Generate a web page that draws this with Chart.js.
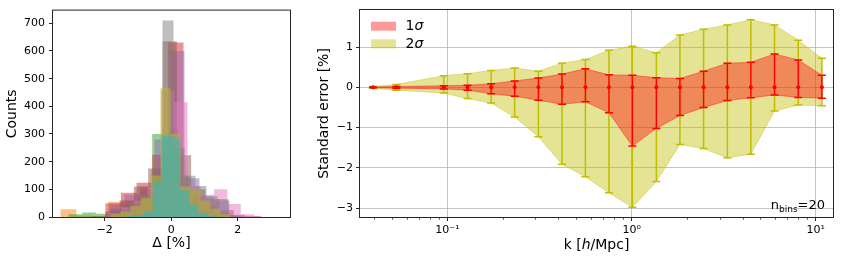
<!DOCTYPE html>
<html>
<head>
<meta charset="utf-8">
<script src="https://cdn.jsdelivr.net/npm/chart.js@4.4.0/dist/chart.umd.min.js"></script>
<style>
  html, body { margin: 0; padding: 0; background: #fff; }
  #wrap { position: relative; width: 843px; height: 261px; }
  #histBox { position: absolute; left: 0; top: 0; width: 300px; height: 261px; }
  #errBox { position: absolute; left: 300px; top: 0; width: 543px; height: 261px; }
</style>
</head>
<body>
<div id="wrap">
  <div id="histBox"><canvas id="hist"></canvas></div>
  <div id="errBox"><canvas id="err"></canvas></div>
</div>
<script>
const FONT = "'DejaVu Sans', sans-serif";
Chart.defaults.font.family = FONT;
Chart.defaults.color = '#000';
Chart.defaults.animation = false;

// ---- left panel: histograms of Delta, one per realisation (bin edges + counts)
const blueEdges   = [-1.6, -1.3, -1.0, -0.7, -0.4, -0.1, 0.2, 0.5, 0.8, 1.1, 1.4];
const blueCounts  = [5, 15, 40, 90, 165, 320, 150, 60, 20, 5];
const orangeEdges = [-3.33, -2.85, -2.37, -1.89, -1.41, -0.93, -0.45, 0.03, 0.51, 0.99, 1.47];
const orangeCounts= [28, 5, 3, 55, 60, 100, 170, 150, 20, 5];
const greenEdges  = [-3.09, -2.67, -2.25, -1.83, -1.41, -0.99, -0.57, -0.15, 0.27, 0.69, 1.11];
const greenCounts = [10, 16, 12, 30, 45, 70, 300, 280, 60, 10];
const redEdges    = [-1.98, -1.51, -1.04, -0.57, -0.10, 0.37, 0.84, 1.31, 1.78, 2.25, 2.72];
const redCounts   = [50, 88, 124, 225, 631, 80, 40, 15, 5, 3];
const purpleEdges = [-1.85, -1.40, -0.95, -0.50, -0.05, 0.40, 0.85, 1.30, 1.75, 2.20, 2.65];
const purpleCounts= [45, 80, 110, 280, 600, 140, 75, 60, 8, 2];
const brownEdges  = [-2.41, -1.98, -1.55, -1.12, -0.69, -0.26, 0.17, 0.60, 1.03, 1.46, 1.89];
const brownCounts = [3, 20, 60, 110, 175, 635, 223, 100, 65, 25];
const pinkEdges   = [-1.91, -1.51, -1.11, -0.71, -0.31, 0.09, 0.49, 0.89, 1.29, 1.69, 2.09, 2.49];
const pinkCounts  = [15, 35, 60, 110, 457, 415, 110, 80, 100, 47, 10];
const grayEdges   = [-1.91, -1.58, -1.25, -0.92, -0.59, -0.26, 0.07, 0.40, 0.73, 1.06, 1.39, 1.72, 2.05];
const grayCounts  = [10, 25, 50, 80, 170, 710, 250, 149, 112, 75, 65, 5];
const oliveEdges  = [-1.82, -1.52, -1.22, -0.92, -0.62, -0.32, -0.02, 0.28, 0.58, 0.88, 1.18, 1.48, 1.78];
const oliveCounts = [10, 20, 40, 70, 150, 467, 300, 110, 100, 60, 30, 10];
const cyanEdges   = [-1.38, -1.105, -0.83, -0.555, -0.28, -0.005, 0.27, 0.545, 0.82, 1.095, 1.37];
const cyanCounts  = [3, 8, 20, 130, 295, 290, 97, 45, 15, 5];

const countTicks = [0, 100, 200, 300, 400, 500, 600, 700];
const deltaTicks = [-2, 0, 2];

// ---- right panel: standard error per k bin
const kBins  = [0.0394, 0.0528, 0.0955, 0.1286, 0.1726, 0.2317, 0.3118, 0.4188, 0.561, 0.753,
                1.009, 1.362, 1.829, 2.459, 3.31, 4.44, 5.97, 8.03, 10.79];
const centre = [0, 0, 0, 0, 0, 0, 0, 0, 0, 0, 0, 0, 0, 0, 0, 0, 0, 0, 0];
const sig1Up = [0.01, 0.02, 0.04, 0.05, 0.09, 0.16, 0.23, 0.33, 0.46, 0.31, 0.30, 0.24, 0.22, 0.40, 0.60, 0.62, 0.83, 0.68, 0.30];
const sig1Lo = [-0.01, -0.02, -0.04, -0.07, -0.16, -0.22, -0.32, -0.42, -0.36, -0.63, -1.46, -1.02, -0.70, -0.50, -0.33, -0.26, -0.19, -0.25, -0.27];
const sig2Up = [0.02, 0.07, 0.29, 0.34, 0.42, 0.48, 0.40, 0.60, 0.69, 0.92, 1.02, 0.86, 1.30, 1.44, 1.55, 1.68, 1.55, 1.17, 0.72];
const sig2Lo = [-0.02, -0.07, -0.14, -0.28, -0.39, -0.74, -1.23, -1.91, -2.22, -2.62, -2.98, -2.34, -1.42, -1.52, -1.75, -1.66, -0.59, -0.44, -0.46];
const errTicks = [-3, -2, -1, 0, 1];
const kTicks   = [0.1, 1, 10];
const kLabels  = ['10⁻¹', '10⁰', '10¹'];

const RED1 = 'rgba(255,0,0,0.4)';
const YEL2 = 'rgba(191,191,0,0.42)';
const EDGE = '#262626';

function minus(v) { return v < 0 ? '\u2212' + Math.abs(v) : String(v); }

// axes box like matplotlib spines
const frame = {
  id: 'frame',
  afterDraw(chart) {
    const { ctx, chartArea: a } = chart;
    ctx.save();
    ctx.strokeStyle = EDGE;
    ctx.lineWidth = 1;
    ctx.strokeRect(a.left - 0.5, a.top - 0.5, a.width + 1, a.height + 1);
    ctx.restore();
  }
};

const _tickBase = {
  drawOnChartArea: false, tickLength: 4, tickColor: EDGE, tickWidth: 1
};

// count i covers [edges[i], edges[i+1]]; 'before' keeps the previous y until the next edge
function stepSeries(edges, counts, rgb) {
  return {
    data: edges.map((e, i) => ({ x: e, y: i < counts.length ? counts[i] : 0 })),
    stepped: 'before',
    fill: 'origin',
    backgroundColor: 'rgba(' + rgb + ',0.5)',
    borderWidth: 0,
    pointRadius: 0
  };
}

new Chart(document.getElementById('hist'), {
  type: 'line',
  data: {
    datasets: [
      stepSeries(blueEdges, blueCounts, '31,119,180'),
      stepSeries(orangeEdges, orangeCounts, '255,127,14'),
      stepSeries(greenEdges, greenCounts, '44,160,44'),
      stepSeries(redEdges, redCounts, '214,39,40'),
      stepSeries(purpleEdges, purpleCounts, '148,103,189'),
      stepSeries(brownEdges, brownCounts, '140,86,75'),
      stepSeries(pinkEdges, pinkCounts, '227,119,194'),
      stepSeries(grayEdges, grayCounts, '127,127,127'),
      stepSeries(oliveEdges, oliveCounts, '188,189,34'),
      stepSeries(cyanEdges, cyanCounts, '23,190,207')
    ].reverse()   // chart.js paints the first dataset last
  },
  options: {
    responsive: true,
    maintainAspectRatio: false,
    events: [],
    layout: { padding: { top: 10, right: 10, left: 0, bottom: 0 } },
    plugins: { legend: { display: false }, tooltip: { enabled: false } },
    scales: {
      x: {
        type: 'linear', min: -3.55, max: 3.57,
        afterBuildTicks: s => { s.ticks = deltaTicks.map(v => ({ value: v })); },
        ticks: { font: { size: 11 }, padding: 3, maxRotation: 0, autoSkip: false, callback: v => minus(v) },
        grid: _tickBase,
        border: { display: false },
        title: { display: true, text: 'Δ [%]', font: { size: 14 }, padding: { top: 0, bottom: 9.6 } },
        afterFit: s => { s.height = 44; }
      },
      y: {
        type: 'linear', min: 0, max: 746,
        afterBuildTicks: s => { s.ticks = countTicks.map(v => ({ value: v })); },
        ticks: { font: { size: 11 }, padding: 4, autoSkip: false },
        grid: _tickBase,
        border: { display: false },
        title: { display: true, text: 'Counts', font: { size: 14 }, padding: { top: 4.4, bottom: 0 } },
        afterFit: s => { s.width = 53; }
      }
    }
  },
  plugins: [frame]
});

// error bars, minor log ticks, legend and labels for the right panel
const errExtras = {
  id: 'errExtras',
  beforeDatasetDraw(chart, args) {
    if (args.index !== 0) return;
    const { ctx } = chart;
    const xs = chart.scales.x, ys = chart.scales.y;
    const bars = [[sig2Lo, sig2Up, '#bfbf00'], [sig1Lo, sig1Up, '#ff0000']];
    ctx.save();
    ctx.lineWidth = 1.5;
    bars.forEach(([lo, hi, col]) => {
      ctx.strokeStyle = col;
      kBins.forEach((k, i) => {
        const x = xs.getPixelForValue(k);
        const y0 = ys.getPixelForValue(lo[i]);
        const y1 = ys.getPixelForValue(hi[i]);
        ctx.beginPath();
        ctx.moveTo(x, y0); ctx.lineTo(x, y1);
        ctx.moveTo(x - 4, y0); ctx.lineTo(x + 4, y0);
        ctx.moveTo(x - 4, y1); ctx.lineTo(x + 4, y1);
        ctx.stroke();
      });
    });
    ctx.restore();
  },
  afterDraw(chart) {
    const { ctx, chartArea: a } = chart;
    const xs = chart.scales.x;
    ctx.save();
    // minor ticks
    ctx.strokeStyle = EDGE;
    ctx.lineWidth = 0.8;
    for (let d = 0.01; d <= 10; d *= 10) {
      for (let m = 2; m <= 9; m++) {
        const v = m * d;
        if (v < xs.min || v > xs.max) continue;
        const x = Math.round(xs.getPixelForValue(v)) + 0.5;
        ctx.beginPath();
        ctx.moveTo(x, a.bottom); ctx.lineTo(x, a.bottom + 2.5);
        ctx.stroke();
      }
    }
    // legend
    const items = [['1', RED1, 21.7], ['2', YEL2, 39.3]];
    ctx.textBaseline = 'middle';
    items.forEach(([n, col, y]) => {
      ctx.fillStyle = col;
      ctx.fillRect(a.left + 11, y, 25, 9);
      ctx.fillStyle = '#000';
      ctx.font = '14px ' + FONT;
      ctx.fillText(n, a.left + 45.5, y + 4.8);
      const w = ctx.measureText(n).width;
      ctx.font = 'italic 14px ' + FONT;
      ctx.fillText('σ', a.left + 45.5 + w, y + 4.8);
    });
    // n_bins label
    ctx.textBaseline = 'alphabetic';
    ctx.font = '13px ' + FONT;
    const wEq = ctx.measureText('=20').width;
    const wN = ctx.measureText('n').width;
    ctx.font = '9px ' + FONT;
    const wSub = ctx.measureText('bins').width;
    let x = a.right - 8 - wEq - wSub - wN;
    ctx.font = '13px ' + FONT;
    ctx.fillText('n', x, 209);
    ctx.font = '9px ' + FONT;
    ctx.fillText('bins', x + wN, 211.5);
    ctx.font = '13px ' + FONT;
    ctx.fillText('=20', x + wN + wSub, 209);
    // x axis label with italic h
    const parts = [['k [', ''], ['h', 'italic '], ['/Mpc]', '']];
    let total = 0;
    parts.forEach(([t, st]) => { ctx.font = st + '14px ' + FONT; total += ctx.measureText(t).width; });
    x = (a.left + a.right) / 2 - total / 2;
    ctx.textBaseline = 'middle';
    parts.forEach(([t, st]) => {
      ctx.font = st + '14px ' + FONT;
      ctx.fillText(t, x, 245);
      x += ctx.measureText(t).width;
    });
    ctx.restore();
  }
};

function band(values, col, fill) {
  return {
    data: kBins.map((k, i) => ({ x: k, y: values[i] })),
    borderColor: col, borderWidth: 1, backgroundColor: col,
    fill: fill, pointRadius: 0, tension: 0
  };
}

new Chart(document.getElementById('err'), {
  type: 'line',
  data: {
    datasets: [
      {
        data: kBins.map((k, i) => ({ x: k, y: centre[i] })),
        showLine: false, pointRadius: 2, pointBackgroundColor: '#ff0000',
        pointBorderWidth: 0, borderColor: '#ff0000'
      },
      band(sig1Up, RED1, '+1'),
      band(sig1Lo, RED1, false),
      band(sig2Up, YEL2, '+1'),
      band(sig2Lo, YEL2, false)
    ]
  },
  options: {
    responsive: true,
    maintainAspectRatio: false,
    events: [],
    layout: { padding: { top: 10, right: 10, left: 0, bottom: 0 } },
    plugins: { legend: { display: false }, tooltip: { enabled: false } },
    scales: {
      x: {
        type: 'logarithmic', min: 0.0335, max: 12.4,
        afterBuildTicks: s => { s.ticks = kTicks.map(v => ({ value: v })); },
        ticks: { font: { size: 11 }, padding: 3, maxRotation: 0, autoSkip: false,
                 callback: (v, i) => kLabels[i] },
        grid: { color: 'rgba(176,176,176,0.75)', lineWidth: 1, tickLength: 4, tickColor: EDGE },
        border: { display: false },
        afterFit: s => { s.height = 44; }
      },
      y: {
        type: 'linear', min: -3.22, max: 1.92,
        afterBuildTicks: s => { s.ticks = errTicks.map(v => ({ value: v })); },
        ticks: { font: { size: 11 }, padding: 3, autoSkip: false, callback: v => minus(v) },
        grid: { color: 'rgba(176,176,176,0.75)', lineWidth: 1, tickLength: 4, tickColor: EDGE },
        border: { display: false },
        title: { display: true, text: 'Standard error [%]', font: { size: 14 }, padding: { top: 16.1, bottom: 0 } },
        afterFit: s => { s.width = 60; }
      }
    }
  },
  plugins: [frame, errExtras]
});
</script>
</body>
</html>
